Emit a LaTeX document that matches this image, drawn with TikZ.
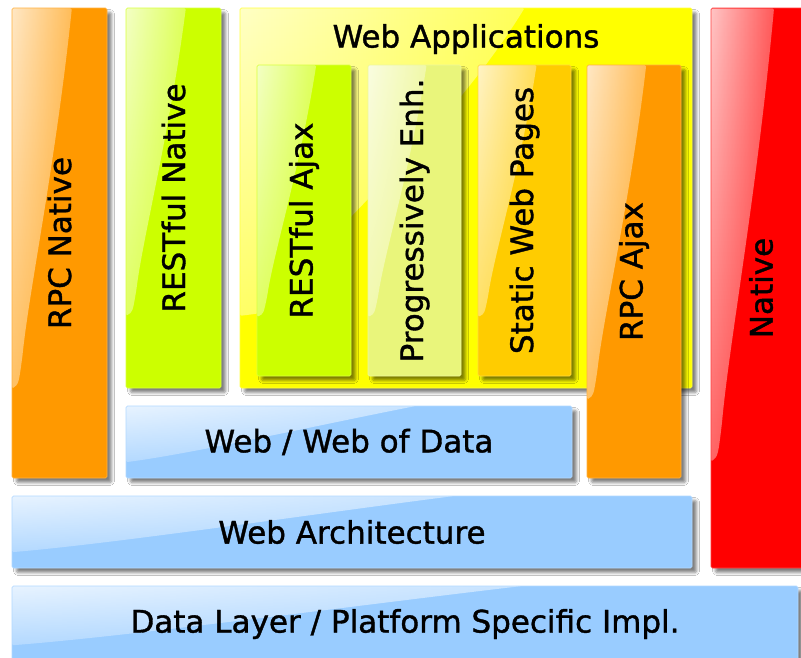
\documentclass[tikz,border=0pt]{standalone}
\usepackage{fontspec}
\setmainfont[FakeBold=1.2]{DejaVu Sans}
\usetikzlibrary{calc,fadings,shadows.blur}

\definecolor{cOrange}{HTML}{FF9900}
\definecolor{cLime}{HTML}{CCFF00}
\definecolor{cYellow}{HTML}{FFFF00}
\definecolor{cPale}{HTML}{E9F57B}
\definecolor{cGold}{HTML}{FFCC00}
\definecolor{cRed}{HTML}{FF0000}
\definecolor{cBlue}{HTML}{99CCFF}

% helper fadings: opaque towards the bottom / towards the right
\tikzfading[name=tobottom, top color=transparent!100, bottom color=transparent!35]
\tikzfading[name=toright, left color=transparent!100, right color=transparent!35]

% glossy masks: bright along the left (columns) or the top (layers)
\begin{tikzfadingfrompicture}[name=glossV]
  \useasboundingbox (-1,-1) rectangle (1,1);
  \shade[left color=white!85!black, right color=white!6!black] (-1,-1) rectangle (1,1);
  \fill[black, path fading=tobottom] (-1,-1) rectangle (1,1);
\end{tikzfadingfrompicture}
\begin{tikzfadingfrompicture}[name=glossH]
  \useasboundingbox (-1,-1) rectangle (1,1);
  \shade[top color=white!85!black, bottom color=white!8!black] (-1,-1) rectangle (1,1);
  \fill[black, path fading=toright] (-1,-1) rectangle (1,1);
\end{tikzfadingfrompicture}

% point at fractions (#1 across, #2 down) of a path picture
\newcommand\gpt[2]{($($(path picture bounding box.north west)!#2!(path picture bounding box.south west)$)!#1!($(path picture bounding box.north east)!#2!(path picture bounding box.south east)$)$)}

\tikzset{
  block/.style={rectangle, rounded corners=1.5pt, inner sep=0pt,
    fill=#1, draw=#1!75!white, line width=0.6pt,
    font=\fontsize{31}{37}\selectfont, text=black,
    blur shadow={shadow xshift=4.5pt, shadow yshift=-4.5pt,
      shadow blur radius=3pt, shadow opacity=50}},
  vgloss/.style={path picture={
    \fill[white, path fading=glossV] \gpt{0}{0} -- \gpt{0.63}{0}
      .. controls \gpt{0.46}{0.33} and \gpt{0.18}{0.6} .. \gpt{0.11}{0.74}
      .. controls \gpt{0.07}{0.8} .. \gpt{0}{0.81} -- cycle;}},
  hgloss/.style={path picture={
    \fill[white, path fading=glossH] \gpt{0}{0} -- \gpt{0.65}{0}
      .. controls \gpt{0.42}{0.28} and \gpt{0.15}{0.66} .. \gpt{0}{0.78} -- cycle;}},
  titletext/.style={font=\fontsize{31}{37}\selectfont, text=black, inner sep=0pt},
}

\begin{document}
\begin{tikzpicture}[x=1pt,y=-1pt]
  \useasboundingbox (0,0) rectangle (801,657);
  \fill[white] (0,0) rectangle (801,657);
  \clip (0,0) rectangle (801,657);

  % left columns
  \node[block=cOrange, vgloss, minimum width=95pt, minimum height=470pt]
    (rpcnative) at (59.5,243) {\rotatebox{90}{RPC Native}};
  \node[block=cLime, vgloss, minimum width=95pt, minimum height=380pt]
    (restnative) at (173.5,198) {\rotatebox{90}{RESTful Native}};

  % web applications group
  \node[block=cYellow, vgloss, minimum width=452pt, minimum height=380pt]
    (webapps) at (466,198) {};
  \node[titletext] (webappstitle) at (466,39) {Web Applications};
  \node[block=cLime, vgloss, minimum width=94pt, minimum height=311pt]
    (restajax) at (304,220.5) {\rotatebox{90}{RESTful Ajax}};
  \node[block=cPale, vgloss, minimum width=93pt, minimum height=311pt]
    (progenh) at (414.5,220.5) {\rotatebox{90}{Progressively Enh.}};
  \node[block=cGold, vgloss, minimum width=93pt, minimum height=311pt]
    (static) at (524.5,220.5) {\rotatebox{90}{Static Web Pages}};
  \node[block=cOrange, vgloss, minimum width=94pt, minimum height=413pt]
    (rpcajax) at (634,271.5) {\rotatebox{90}{RPC Ajax}};

  % right column
  \node[block=cRed, vgloss, minimum width=100pt, minimum height=560pt]
    (native) at (761,288) {\rotatebox{90}{Native}};

  % horizontal layers
  \node[block=cBlue, hgloss, minimum width=446pt, minimum height=72pt]
    (webdata) at (349,442) {Web / Web of Data};
  \node[block=cBlue, hgloss, minimum width=680pt, minimum height=72pt]
    (webarch) at (352,532) {Web Architecture};
  \node[block=cBlue, hgloss, minimum width=786pt, minimum height=76pt]
    (datalayer) at (405,624) {Data Layer / Platform Specific Impl.};
\end{tikzpicture}
\end{document}
